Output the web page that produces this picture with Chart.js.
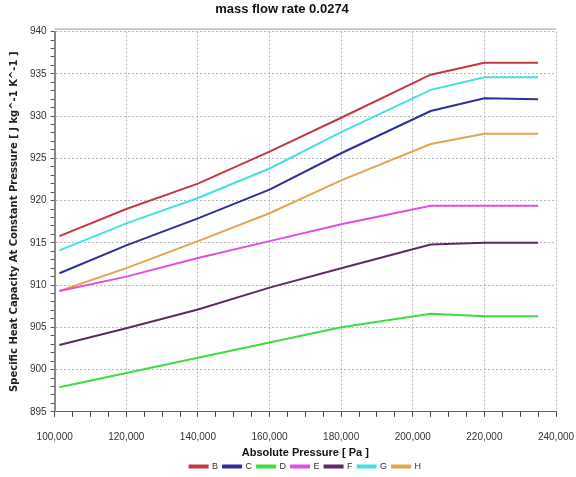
<!DOCTYPE html>
<html>
<head>
<meta charset="utf-8">
<script src="https://cdn.jsdelivr.net/npm/chart.js@4.4.1/dist/chart.umd.min.js"></script>
<style>
  html, body { margin: 0; padding: 0; background: #fff; }
  #wrap { width: 576px; height: 477px; }
</style>
</head>
<body>
<div id="wrap"><canvas id="chart" width="576" height="477"></canvas></div>
<script>
// pressures (Pa) where each curve was sampled
const pressures = [101325, 120000, 140000, 160000, 180000, 205000, 220000, 235000]

// specific heat capacity
const seriesB = [915.8, 919.0, 922.0, 925.8, 929.8, 934.9, 936.3, 936.3]
const seriesC = [911.4, 914.7, 917.9, 921.3, 925.6, 930.6, 932.1, 932.0]
const seriesD = [897.9, 899.6, 901.4, 903.2, 905.0, 906.6, 906.3, 906.3]
const seriesE = [909.3, 911.0, 913.2, 915.2, 917.2, 919.4, 919.4, 919.4]
const seriesF = [902.9, 904.9, 907.1, 909.7, 912.0, 914.8, 915.0, 915.0]
const seriesG = [914.1, 917.3, 920.3, 923.8, 928.1, 933.1, 934.6, 934.6]
const seriesH = [909.3, 912.0, 915.2, 918.5, 922.4, 926.7, 927.9, 927.9]

const seriesNames = ['B', 'C', 'D', 'E', 'F', 'G', 'H']
const seriesColors = ['#c4393f', '#2f2f9c', '#3fdc3f', '#e04fe0', '#5e2a62', '#45e0e0', '#e4a54e']
const allSeries = [seriesB, seriesC, seriesD, seriesE, seriesF, seriesG, seriesH]

const datasets = allSeries.map((vals, i) => ({
  label: seriesNames[i],
  data: vals.map((v, j) => ({ x: pressures[j], y: v })),
  borderColor: seriesColors[i],
  backgroundColor: seriesColors[i],
  borderWidth: 2,
  pointRadius: 0,
  tension: 0,
  fill: false
}))

const tickFont = { family: "'Liberation Sans Narrow', 'Liberation Sans', sans-serif", size: 10 }

// solid frame line along the top of the plot, as in the original
const topFrame = {
  id: 'topFrame',
  afterDraw(chart) {
    const { ctx, chartArea } = chart
    ctx.save()
    ctx.strokeStyle = '#999'
    ctx.lineWidth = 1
    ctx.beginPath()
    ctx.moveTo(chartArea.left, chartArea.top - 2.5)
    ctx.lineTo(chartArea.right, chartArea.top - 2.5)
    ctx.stroke()
    ctx.restore()
  }
}

new Chart(document.getElementById('chart'), {
  type: 'line',
  data: { datasets },
  plugins: [topFrame],
  options: {
    responsive: false,
    animation: false,
    layout: { padding: { left: 8, right: 20, top: 0, bottom: -4 } },
    plugins: {
      title: {
        display: true,
        text: 'mass flow rate 0.0274',
        color: '#111',
        font: { family: "'Liberation Sans Narrow', 'Liberation Sans', sans-serif", size: 13, weight: 'bold' },
        padding: { top: 2, bottom: 14 }
      },
      legend: {
        position: 'bottom',
        fullSize: false,
        labels: {
          boxWidth: 18,
          boxHeight: 2,
          padding: 5,
          color: '#333',
          font: { family: "'Liberation Sans', sans-serif", size: 9 }
        }
      },
      tooltip: { enabled: false }
    },
    scales: {
      x: {
        type: 'linear',
        min: 100000,
        max: 240000,
        // let the last tick label hang past the plot edge
        afterFit: (scale) => { scale.paddingRight = 0 },
        ticks: {
          stepSize: 5000,
          autoSkip: false,
          maxRotation: 0,
          color: '#333',
          font: tickFont,
          padding: 14,
          callback: (v) => v % 20000 === 0 ? v.toLocaleString('en-US') : ''
        },
        grid: {
          color: (ctx) => ctx.tick && ctx.tick.value % 20000 === 0 ? '#b8b8b8' : 'rgba(0,0,0,0)',
          tickColor: '#444',
          tickLength: 5,
          lineWidth: 1
        },
        border: { display: true, color: '#666', dash: [2, 2] },
        title: {
          display: true,
          text: 'Absolute Pressure [ Pa ]',
          color: '#111',
          font: { family: "'Liberation Sans Narrow', 'Liberation Sans', sans-serif", size: 11, weight: 'bold' },
          padding: { top: -10, bottom: -3 }
        }
      },
      y: {
        min: 895,
        max: 940,
        ticks: {
          stepSize: 1,
          autoSkip: false,
          color: '#333',
          font: tickFont,
          padding: 4,
          callback: (v) => v % 5 === 0 ? String(v) : ''
        },
        grid: {
          color: (ctx) => ctx.tick && ctx.tick.value % 5 === 0 ? '#b8b8b8' : 'rgba(0,0,0,0)',
          tickColor: '#555',
          tickLength: 4,
          lineWidth: 1
        },
        border: { display: true, color: '#888', width: 2, dash: [2, 2] },
        title: {
          display: true,
          text: 'Specific Heat Capacity At Constant Pressure [ J kg^-1 K^-1 ]',
          color: '#222',
          font: { family: "'DejaVu Sans', sans-serif", size: 10, weight: 'bold' },
          padding: { top: 0, bottom: 6 }
        }
      }
    }
  }
})
</script>
</body>
</html>
